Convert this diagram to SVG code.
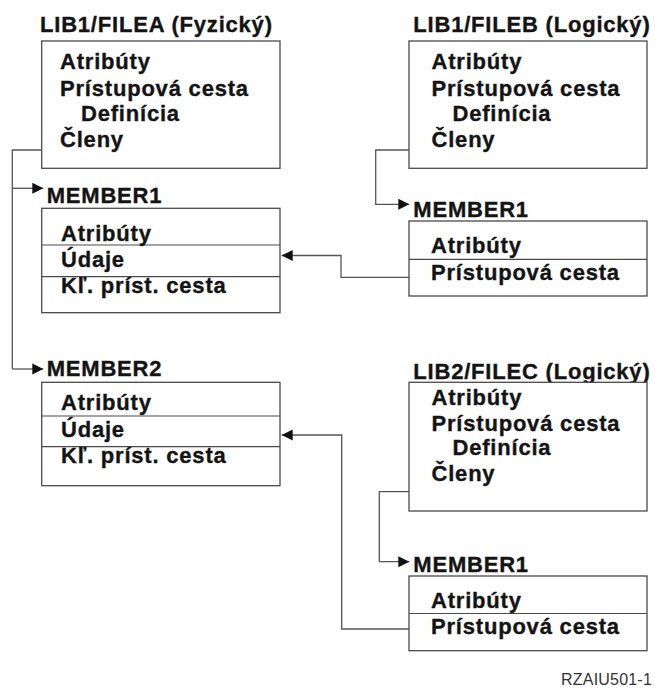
<svg xmlns="http://www.w3.org/2000/svg" width="655" height="689" viewBox="0 0 655 689">
  <style>
    .t { font-family: "Liberation Sans", Arial, Helvetica, sans-serif; font-weight: bold; font-size: 22px; letter-spacing: 0.8px; fill: #141414; stroke: #141414; stroke-width: 0.35; }
    .box { fill: #ffffff; stroke: #4a4a4a; stroke-width: 1.3; }
    .div { stroke: #4a4a4a; stroke-width: 1.2; fill: none; }
    .wire { fill: none; stroke: #555555; stroke-width: 1.3; }
    .fig { font-family: "Liberation Sans", Arial, Helvetica, sans-serif; font-size: 16px; letter-spacing: 0.2px; fill: #333333; }
  </style>
  <defs>
    <marker id="arrow" markerUnits="userSpaceOnUse" viewBox="0 0 12 12" refX="11" refY="6" markerWidth="12" markerHeight="12" orient="auto">
      <path d="M0,0.5 L11,6 L0,11.5 Z" fill="#111111"/>
    </marker>
  </defs>
  <rect width="655" height="689" fill="#ffffff"/>

  <!-- physical file LIB1/FILEA -->
  <g id="filea">
    <text class="t" x="40" y="32.3">LIB1/FILEA (Fyzický)</text>
    <rect class="box" x="41.7" y="41" width="238.3" height="127.3"/>
    <text class="t" x="60" y="68.5">Atribúty</text>
    <text class="t" x="60" y="96">Prístupová cesta</text>
    <text class="t" x="81" y="121">Definícia</text>
    <text class="t" x="60" y="147">Členy</text>
  </g>

  <!-- logical file LIB1/FILEB -->
  <g id="fileb">
    <text class="t" x="413.3" y="32.3">LIB1/FILEB (Logický)</text>
    <rect class="box" x="409" y="41" width="238" height="127.3"/>
    <text class="t" x="431.5" y="68.5">Atribúty</text>
    <text class="t" x="431.5" y="96">Prístupová cesta</text>
    <text class="t" x="452.5" y="121">Definícia</text>
    <text class="t" x="431.5" y="147">Členy</text>
  </g>

  <!-- FILEA member 1 -->
  <g id="filea-member1">
    <text class="t" x="46.7" y="203.3">MEMBER1</text>
    <rect class="box" x="41.7" y="208.3" width="238.3" height="104.4"/>
    <line class="div" x1="41.7" y1="245" x2="280" y2="245"/>
    <line class="div" x1="41.7" y1="276.7" x2="280" y2="276.7"/>
    <text class="t" x="61" y="240.7">Atribúty</text>
    <text class="t" x="61" y="266.7">Údaje</text>
    <text class="t" x="61" y="293.3">Kľ. príst. cesta</text>
  </g>

  <!-- FILEB member 1 -->
  <g id="fileb-member1">
    <text class="t" x="413.3" y="216.7">MEMBER1</text>
    <rect class="box" x="409" y="221" width="238" height="75"/>
    <line class="div" x1="409" y1="259.3" x2="647" y2="259.3"/>
    <text class="t" x="431" y="253.3">Atribúty</text>
    <text class="t" x="431" y="280">Prístupová cesta</text>
  </g>

  <!-- FILEA member 2 -->
  <g id="filea-member2">
    <text class="t" x="46.7" y="376">MEMBER2</text>
    <rect class="box" x="41.7" y="382.3" width="238.3" height="103.4"/>
    <line class="div" x1="41.7" y1="416" x2="280" y2="416"/>
    <line class="div" x1="41.7" y1="446.7" x2="280" y2="446.7"/>
    <text class="t" x="61" y="410">Atribúty</text>
    <text class="t" x="61" y="436.7">Údaje</text>
    <text class="t" x="61" y="463.3">Kľ. príst. cesta</text>
  </g>

  <!-- logical file LIB2/FILEC -->
  <g id="filec">
    <text class="t" x="413.3" y="379">LIB2/FILEC (Logický)</text>
    <rect class="box" x="409" y="382.3" width="238" height="128.7"/>
    <text class="t" x="431.5" y="405">Atribúty</text>
    <text class="t" x="431.5" y="430.7">Prístupová cesta</text>
    <text class="t" x="452.5" y="455">Definícia</text>
    <text class="t" x="431.5" y="480.7">Členy</text>
  </g>

  <!-- FILEC member 1 -->
  <g id="filec-member1">
    <text class="t" x="413.3" y="571.7">MEMBER1</text>
    <rect class="box" x="409" y="576" width="238" height="74.7"/>
    <line class="div" x1="409" y1="613.5" x2="647" y2="613.5"/>
    <text class="t" x="431" y="608.3">Atribúty</text>
    <text class="t" x="431" y="634">Prístupová cesta</text>
  </g>

  <!-- connectors -->
  <g id="connectors">
    <path class="wire" d="M41.7,150 H12.3 V369"/>
    <path class="wire" d="M12.3,188.3 H43.3" marker-end="url(#arrow)"/>
    <path class="wire" d="M12.3,369 H43.3" marker-end="url(#arrow)"/>
    <path class="wire" d="M409,150 H375.7 V204.3 H409.3" marker-end="url(#arrow)"/>
    <path class="wire" d="M409,277.3 H341 V255.5 H281.7" marker-end="url(#arrow)"/>
    <path class="wire" d="M409,491.7 H379.3 V561.7 H409.3" marker-end="url(#arrow)"/>
    <path class="wire" d="M409,629 H341.7 V435 H281.7" marker-end="url(#arrow)"/>
  </g>

  <text class="fig" x="652" y="685" text-anchor="end">RZAIU501-1</text>
</svg>
